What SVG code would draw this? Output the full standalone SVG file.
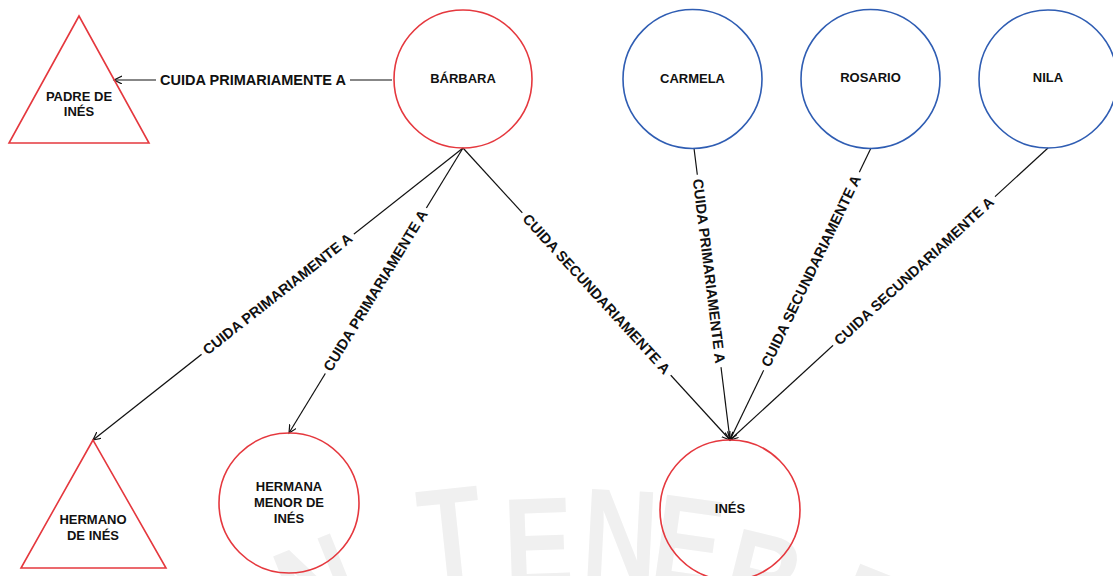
<svg xmlns="http://www.w3.org/2000/svg" width="1113" height="576" viewBox="0 0 1113 576">
  <defs>
    <style>
      .red { fill: none; stroke: #e5383e; stroke-width: 1.6; }
      .blue { fill: none; stroke: #2f5db3; stroke-width: 1.6; }
      .node-text { font-family: "Liberation Sans", Arial, sans-serif; font-weight: bold; font-size: 13px; fill: #111; text-anchor: middle; dominant-baseline: central; }
      .edge { fill: none; stroke: #111; stroke-width: 1.2; }
      .edge-label { font-family: "Liberation Sans", Arial, sans-serif; font-weight: bold; font-size: 14.5px; fill: #111; text-anchor: middle; dominant-baseline: central; }
      .label-bg { fill: #ffffff; }
      .wm { font-family: "Liberation Sans", Arial, sans-serif; font-weight: bold; font-size: 130px; fill: #f0f0f0; text-anchor: middle; }
    </style>
    <marker id="arrow" markerUnits="userSpaceOnUse" markerWidth="12" markerHeight="12" refX="8" refY="4" orient="auto">
      <path d="M0,0 L8,4 L0,8" fill="none" stroke="#111" stroke-width="1.2"/>
    </marker>
  </defs>
  <rect width="1113" height="576" fill="#ffffff"/>

  <g id="watermark">
    <text class="wm" transform="translate(335,628) rotate(-22) scale(0.8,1)">N</text>
    <text class="wm" transform="translate(455,578) rotate(-6) scale(0.8,1)">T</text>
    <text class="wm" transform="translate(540,588) rotate(-2) scale(0.8,1)">E</text>
    <text class="wm" transform="translate(618,580) rotate(3) scale(0.8,1)">N</text>
    <text class="wm" transform="translate(682,587) rotate(8) scale(0.8,1)">E</text>
    <text class="wm" transform="translate(752,623) rotate(14) scale(0.8,1)">B</text>
    <text class="wm" transform="translate(855,658) rotate(22) scale(0.8,1)">R</text>
  </g>

  <g id="connectors">
    <line class="edge" x1="392" y1="80" x2="114" y2="80" marker-end="url(#arrow)"/>
    <line class="edge" x1="463" y1="148" x2="93" y2="440" marker-end="url(#arrow)"/>
    <line class="edge" x1="463" y1="148" x2="289" y2="433" marker-end="url(#arrow)"/>
    <line class="edge" x1="463" y1="148" x2="730" y2="440" marker-end="url(#arrow)"/>
    <line class="edge" x1="694" y1="148" x2="730" y2="440" marker-end="url(#arrow)"/>
    <line class="edge" x1="871" y1="148" x2="730" y2="440" marker-end="url(#arrow)"/>
    <line class="edge" x1="1048" y1="148" x2="730" y2="440" marker-end="url(#arrow)"/>

    <g transform="translate(253,80)">
      <rect class="label-bg" x="-97" y="-9" width="194" height="18"/>
      <text class="edge-label" x="0" y="0">CUIDA PRIMARIAMENTE A</text>
    </g>
    <g transform="translate(277.5,294) rotate(-38.3)">
      <rect class="label-bg" x="-97" y="-9" width="194" height="18"/>
      <text class="edge-label" x="0" y="0">CUIDA PRIMARIAMENTE A</text>
    </g>
    <g transform="translate(375.5,290.5) rotate(-58.6)">
      <rect class="label-bg" x="-97" y="-9" width="194" height="18"/>
      <text class="edge-label" x="0" y="0">CUIDA PRIMARIAMENTE A</text>
    </g>
    <g transform="translate(596.5,294) rotate(47.6)">
      <rect class="label-bg" x="-110" y="-9" width="220" height="18"/>
      <text class="edge-label" x="0" y="0">CUIDA SECUNDARIAMENTE A</text>
    </g>
    <g transform="translate(709,271) rotate(83)">
      <rect class="label-bg" x="-97" y="-9" width="194" height="18"/>
      <text class="edge-label" x="0" y="0">CUIDA PRIMARIAMENTE A</text>
    </g>
    <g transform="translate(811,271) rotate(-64.2)">
      <rect class="label-bg" x="-110" y="-9" width="220" height="18"/>
      <text class="edge-label" x="0" y="0">CUIDA SECUNDARIAMENTE A</text>
    </g>
    <g transform="translate(914,271) rotate(-42.6)">
      <rect class="label-bg" x="-110" y="-9" width="220" height="18"/>
      <text class="edge-label" x="0" y="0">CUIDA SECUNDARIAMENTE A</text>
    </g>
  </g>

  <g id="padre">
    <polygon class="red" points="79,16 9,143 149,143"/>
    <text class="node-text" x="79" y="96">PADRE DE</text>
    <text class="node-text" x="79" y="111">INÉS</text>
  </g>
  <g id="barbara">
    <circle class="red" cx="463" cy="79" r="69"/>
    <text class="node-text" x="463" y="78">BÁRBARA</text>
  </g>
  <g id="carmela">
    <circle class="blue" cx="692.5" cy="79" r="69.5"/>
    <text class="node-text" x="692.5" y="78">CARMELA</text>
  </g>
  <g id="rosario">
    <circle class="blue" cx="870.5" cy="79" r="69.5"/>
    <text class="node-text" x="870.5" y="77">ROSARIO</text>
  </g>
  <g id="nila">
    <circle class="blue" cx="1048" cy="79" r="69"/>
    <text class="node-text" x="1048" y="77">NILA</text>
  </g>
  <g id="hermano">
    <polygon class="red" points="93,440 21,568 166,568"/>
    <text class="node-text" x="93" y="519">HERMANO</text>
    <text class="node-text" x="93" y="535">DE INÉS</text>
  </g>
  <g id="hermana">
    <circle class="red" cx="289" cy="503" r="70"/>
    <text class="node-text" x="289" y="486">HERMANA</text>
    <text class="node-text" x="289" y="502">MENOR DE</text>
    <text class="node-text" x="289" y="518">INÉS</text>
  </g>
  <g id="ines">
    <circle class="red" cx="730" cy="510" r="70"/>
    <text class="node-text" x="730" y="508">INÉS</text>
  </g>
</svg>
